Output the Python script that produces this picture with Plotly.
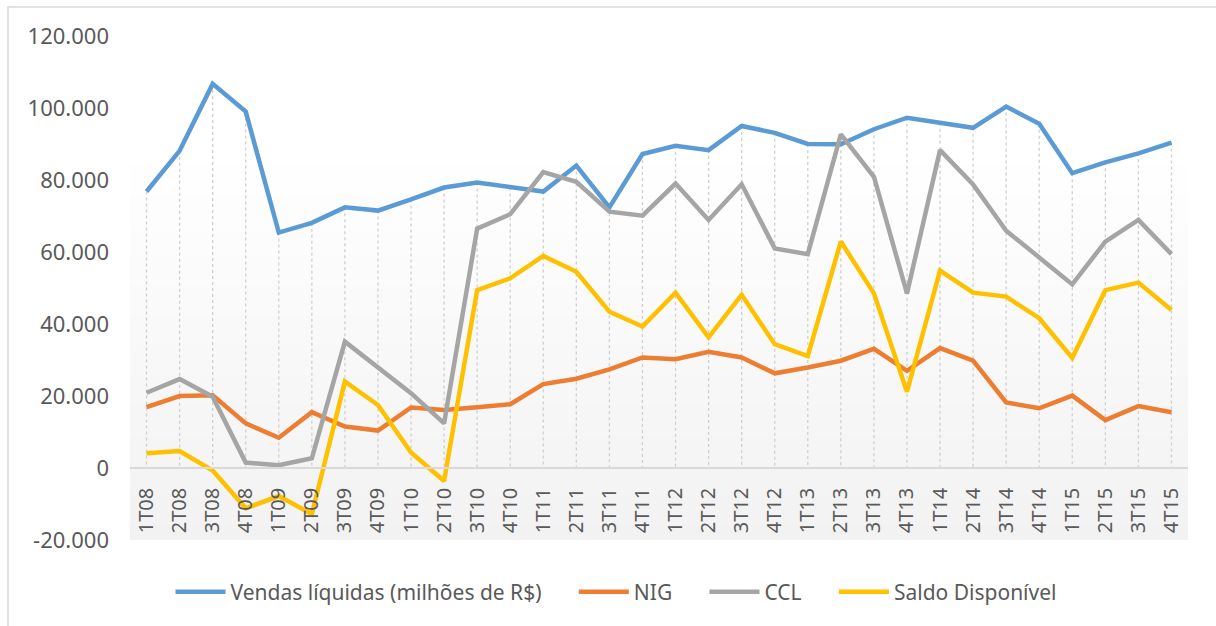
import plotly.graph_objects as go

categories = ["1T08","2T08","3T08","4T08","1T09","2T09","3T09","4T09",
              "1T10","2T10","3T10","4T10","1T11","2T11","3T11","4T11",
              "1T12","2T12","3T12","4T12","1T13","2T13","3T13","4T13",
              "1T14","2T14","3T14","4T14","1T15","2T15","3T15","4T15"]

vendas = [76800, 88100, 106700, 99000, 65400, 68100, 72400, 71500,
          74600, 77900, 79300, 77900, 76800, 84000, 72400, 87200,
          89500, 88300, 95000, 93100, 90000, 89900, 94100, 97300,
          95900, 94500, 100400, 95600, 81900, 84900, 87400, 90400]

nig = [16900, 20000, 20200, 12400, 8400, 15500, 11500, 10400,
       16800, 16100, 16900, 17700, 23300, 24800, 27400, 30700,
       30200, 32300, 30700, 26300, 27900, 29800, 33100, 27000,
       33300, 29800, 18200, 16600, 20100, 13300, 17200, 15500]

ccl = [20900, 24700, 19800, 1500, 800, 2700, 35100, 28000,
       20800, 12400, 66500, 70500, 82200, 79500, 71200, 70100,
       79000, 68900, 78800, 61000, 59400, 92700, 80900, 48500,
       88300, 78800, 65900, 58500, 51000, 62900, 68900, 59400]

saldo = [4100, 4700, -700, -11200, -7800, -12800, 24000, 17500,
         4300, -3600, 49400, 52700, 58900, 54500, 43400, 39300,
         48700, 36300, 48100, 34400, 31100, 62900, 48500, 21200,
         54800, 48700, 47600, 41600, 30600, 49400, 51500, 43900]

series_names = ["Vendas líquidas (milhões de R$)", "NIG", "CCL", "Saldo Disponível"]
series_colors = ["#5B9BD5", "#ED7D31", "#A5A5A5", "#FFC000"]

y_tickvals = [-20000, 0, 20000, 40000, 60000, 80000, 100000, 120000]
y_ticktext = ["-20.000", "0", "20.000", "40.000", "60.000", "80.000", "100.000", "120.000"]

# layout geometry (pixels)
W, H = 1216, 626
L, R, T, B = 130, 28, 36, 86
PW, PH = W - L - R, H - T - B

def fx(px):
    return (px - L) / PW

def fy(py):
    return (H - B - py) / PH

fig = go.Figure()

# drop lines from the top series down to the category axis
dx, dy = [], []
for c, v in zip(categories, vendas):
    dx += [c, c, None]
    dy += [v, 0, None]
fig.add_trace(go.Scatter(x=dx, y=dy, mode="lines", showlegend=False, hoverinfo="skip",
                         line=dict(color="#CFCFCF", width=1.3, dash="dot")))

pad = "\u00a0" * 5
for i, (name, vals, col) in enumerate(zip(series_names, [vendas, nig, ccl, saldo], series_colors)):
    label = name + (pad if i < len(series_names) - 1 else "")
    fig.add_trace(go.Scatter(x=categories, y=vals, mode="lines", name=label,
                             line=dict(color=col, width=4.5)))

shapes = []
# gradient plot-area fill
top_px, bot_px = 150, 540
n = 26
for i in range(n):
    y0p = top_px + (bot_px - top_px) * i / n
    y1p = top_px + (bot_px - top_px) * (i + 1) / n
    t = (i + 0.5) / n
    g = int(round(255 - (255 - 242) * t))
    shapes.append(dict(type="rect", xref="paper", yref="paper", layer="below",
                       x0=0, x1=1, y0=fy(y1p), y1=fy(y0p),
                       fillcolor=f"rgb({g},{g},{g})", line=dict(width=0)))
# outer chart border
shapes.append(dict(type="rect", xref="paper", yref="paper", layer="below",
                   x0=fx(8), x1=fx(1230), y0=fy(640), y1=fy(7),
                   fillcolor="rgba(0,0,0,0)", line=dict(color="#D9D9D9", width=1.5)))

fig.update_layout(
    width=W, height=H,
    margin=dict(l=L, r=R, t=T, b=B, pad=0),
    paper_bgcolor="white", plot_bgcolor="rgba(0,0,0,0)",
    font=dict(family="Noto Sans", color="#595959", size=21),
    shapes=shapes,
    showlegend=True,
    legend=dict(orientation="h", x=fx(616), xanchor="center", y=fy(592), yanchor="middle",
                font=dict(size=21, color="#595959"), itemwidth=50,
                bgcolor="rgba(0,0,0,0)", traceorder="normal"),
    xaxis=dict(type="category", categoryorder="array", categoryarray=categories,
               range=[-0.5, len(categories) - 0.5],
               anchor="free", position=fy(468),
               showline=True, linecolor="#D9D9D9", linewidth=1.5,
               showgrid=False, zeroline=False, ticks="", tickangle=-90,
               ticklabelstandoff=11, tickfont=dict(size=20, color="#595959")),
    yaxis=dict(range=[-20000, 120000], tickvals=y_tickvals, ticktext=y_ticktext,
               showgrid=False, zeroline=False, showline=False, ticks="",
               ticklabelstandoff=20, tickfont=dict(size=22, color="#595959")),
)

fig.write_html("out.html", config={"displayModeBar": False},
               post_script="document.body.style.margin='0';document.body.style.overflow='hidden';")
